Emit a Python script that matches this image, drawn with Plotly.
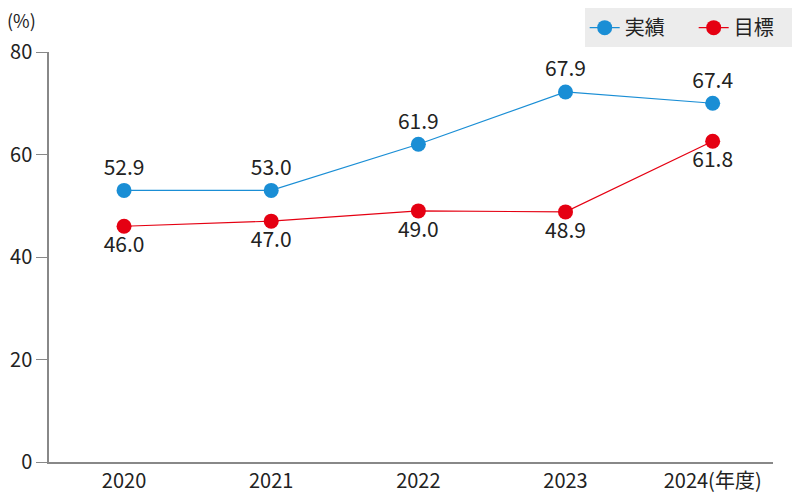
import plotly.graph_objects as go

years = ["2020", "2021", "2022", "2023", "2024(年度)"]
# plotted positions
actual_pos = [53.0, 53.0, 62.0, 72.2, 70.0]
target_pos = [46.0, 47.0, 49.0, 48.8, 62.6]
# printed data labels
actual_labels = ["52.9", "53.0", "61.9", "67.9", "67.4"]
target_labels = ["46.0", "47.0", "49.0", "48.9", "61.8"]
y_ticks = [0, 20, 40, 60, 80]

FONT = "Noto Sans CJK JP"
BLUE = "#1a8ed5"
RED = "#e50012"
xs = list(range(len(years)))

fig = go.Figure()
fig.add_trace(go.Scatter(
    x=xs, y=actual_pos, name="実績", mode="lines+markers+text",
    line=dict(color=BLUE, width=1.2), marker=dict(color=BLUE, size=15),
    text=actual_labels, textposition="top center",
    textfont=dict(size=21, color="#222", family=FONT), cliponaxis=False))
fig.add_trace(go.Scatter(
    x=xs, y=target_pos, name="目標", mode="lines+markers+text",
    line=dict(color=RED, width=1.2), marker=dict(color=RED, size=15),
    text=target_labels, textposition="bottom center",
    textfont=dict(size=21, color="#222", family=FONT), cliponaxis=False))

fig.update_layout(
    width=792, height=486,
    margin=dict(l=41, r=27, t=44, b=32, autoexpand=False),
    plot_bgcolor="white", paper_bgcolor="white",
    font=dict(family=FONT, size=20, color="#222"),
    showlegend=True,
    legend=dict(orientation="h", x=1.041, xanchor="right", y=1.107, yanchor="top",
                bgcolor="#ececec", font=dict(size=20, family=FONT),
                entrywidth=64, entrywidthmode="pixels", traceorder="normal"),
    xaxis=dict(tickmode="array", tickvals=xs, ticktext=years,
               range=[-0.51, 4.41], showline=True, linecolor="#888", linewidth=1.5,
               showgrid=False, zeroline=False, ticks="", tickfont=dict(size=20)),
    yaxis=dict(range=[0, 80], tickvals=y_ticks, showline=True, linecolor="#888",
               linewidth=1.5, showgrid=False, zeroline=False, ticks="outside",
               ticklen=11, tickcolor="#888", tickfont=dict(size=20)),
    annotations=[dict(text="(%)", xref="paper", yref="paper", x=-0.0373, y=1.077,
                      xanchor="center", yanchor="middle", showarrow=False,
                      font=dict(size=18))],
)
fig.write_html("out.html")
